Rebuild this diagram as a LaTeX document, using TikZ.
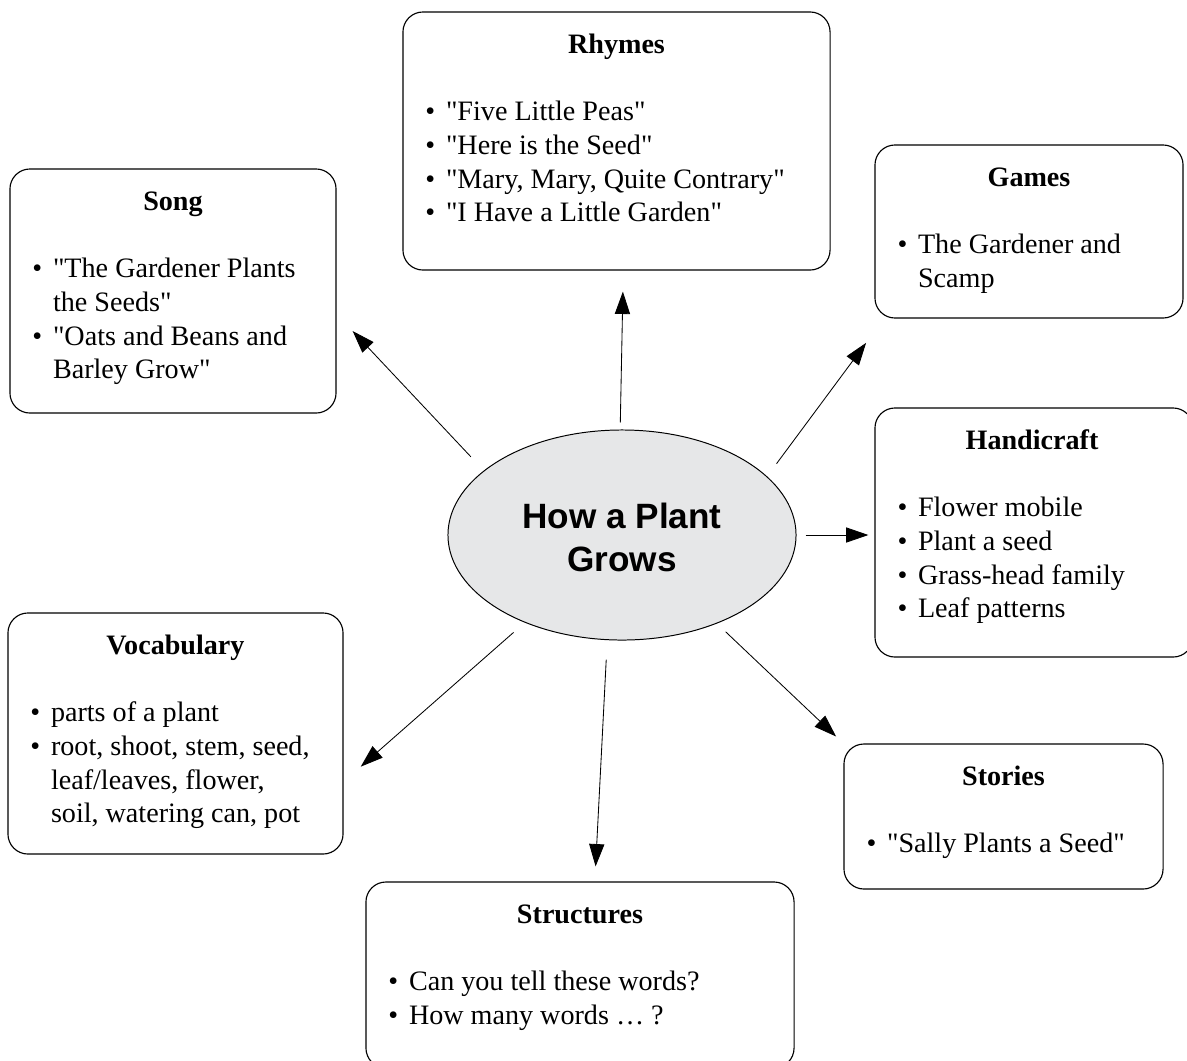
\documentclass[tikz,border=0pt]{standalone}
\usepackage{fontspec}
\setmainfont{Liberation Serif}[Ligatures=TeXOff]
\newfontfamily\hubfont{Liberation Sans}
\usetikzlibrary{shapes.geometric,arrows.meta}
\definecolor{hubfill}{RGB}{230,231,232}
\newcommand{\itm}{\textbullet\hspace*{0.38em}}
\newcommand{\cnt}{\hphantom{\textbullet}\hspace*{0.38em}}
\begin{document}
\begin{tikzpicture}[x=0.025cm, y=-0.025cm,
  box/.style={draw, line width=0.8pt, rounded corners=0.5cm},
  hubnode/.style={ellipse, draw, line width=0.7pt, fill=hubfill, minimum width=8.7cm, minimum height=5.25cm, align=center, font=\hubfont\bfseries\fontsize{25}{30.3}\selectfont},
  heading/.style={anchor=base, font=\bfseries\fontsize{20}{24}\selectfont},
  items/.style={anchor=north west, inner sep=0pt, align=left, font=\fontsize{20}{24}\selectfont},
  link/.style={-{Triangle[length=0.56cm, width=0.38cm]}, line width=0.6pt}]
\useasboundingbox (0,0) rectangle (1187,1060);
\node[hubnode] (hub) at (622,535) {\strut How a Plant\\Grows};

\node[box, minimum width=10.675cm, minimum height=6.45cm] (rhymes) at (616.5,141) {};
\node[heading] at ([yshift=-1.05cm]rhymes.north) {Rhymes};
\node[items] at ([xshift=0.57cm, yshift=-2.135cm]rhymes.north west) {\strut\itm"Five Little Peas"\\\itm"Here is the Seed"\\\itm"Mary, Mary, Quite Contrary"\\\itm"I Have a Little Garden"};

\node[box, minimum width=8.15cm, minimum height=6.1cm] (song) at (173,291) {};
\node[heading] at ([yshift=-1.05cm]song.north) {Song};
\node[items] at ([xshift=0.57cm, yshift=-2.135cm]song.north west) {\strut\itm"The Gardener Plants\\\cnt the Seeds"\\\itm"Oats and Beans and\\\cnt Barley Grow"};

\node[box, minimum width=7.7cm, minimum height=4.325cm] (games) at (1029,231.5) {};
\node[heading] at ([yshift=-1.05cm]games.north) {Games};
\node[items] at ([xshift=0.57cm, yshift=-2.135cm]games.north west) {\strut\itm The Gardener and\\\cnt Scamp};

\node[box, minimum width=7.95cm, minimum height=6.225cm] (handicraft) at (1034,532.5) {};
\node[heading] at ([xshift=-0.05cm, yshift=-1.05cm]handicraft.north) {Handicraft};
\node[items] at ([xshift=0.57cm, yshift=-2.135cm]handicraft.north west) {\strut\itm Flower mobile\\\itm Plant a seed\\\itm Grass-head family\\\itm Leaf patterns};

\node[box, minimum width=8.375cm, minimum height=6.025cm] (vocabulary) at (175.5,733.5) {};
\node[heading] at ([yshift=-1.05cm]vocabulary.north) {Vocabulary};
\node[items] at ([xshift=0.57cm, yshift=-2.135cm]vocabulary.north west) {\strut\itm parts of a plant\\\itm root, shoot, stem, seed,\\\cnt leaf/leaves, flower,\\\cnt soil, watering can, pot};

\node[box, minimum width=7.975cm, minimum height=3.625cm] (stories) at (1003.5,816.5) {};
\node[heading] at ([yshift=-1.05cm]stories.north) {Stories};
\node[items] at ([xshift=0.57cm, yshift=-2.135cm]stories.north west) {\strut\itm"Sally Plants a Seed"};

\node[box, minimum width=10.7cm, minimum height=4.65cm] (structures) at (580,975) {};
\node[heading] at ([yshift=-1.05cm]structures.north) {Structures};
\node[items] at ([xshift=0.57cm, yshift=-2.135cm]structures.north west) {\strut\itm Can you tell these words?\\\itm How many words … ?};

\draw[link, shorten <=0.474cm, shorten >=0.585cm] (hub.155.6) -- (song.-8.3);
\draw[link, shorten <=0.175cm, shorten >=0.525cm] (hub.91.1) -- (rhymes.-87.9);
\draw[link, shorten <=0.395cm, shorten >=0.754cm] (hub.22.5) -- (games.211);
\draw[link, shorten <=0.225cm, shorten >=0.15cm] (hub.east) -- (hub.east -| handicraft.west);
\draw[link, shorten <=0.3cm, shorten >=0.25cm] (hub.-43.6) -- (stories.north west);
\draw[link, shorten <=0.49cm, shorten >=0.375cm] (hub.-98.7) -- (structures.81.3);
\draw[link, shorten <=0.37cm, shorten >=0.57cm] (hub.222) -- (vocabulary.-16.8);
\end{tikzpicture}
\end{document}
